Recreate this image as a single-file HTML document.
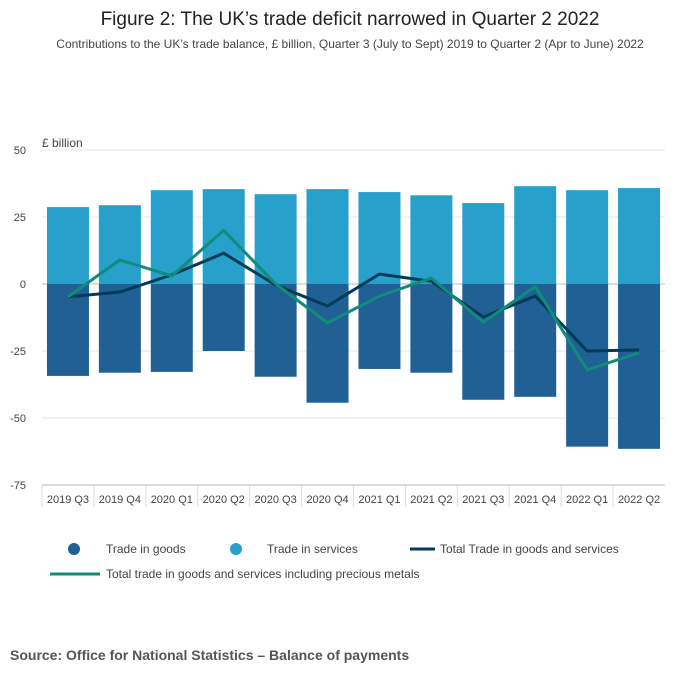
<!DOCTYPE html>
<html><head><meta charset="utf-8"><style>
body{margin:0;background:#fff;font-family:"Liberation Sans",sans-serif;}
svg text{font-family:"Liberation Sans",sans-serif;}
</style></head><body>
<svg width="700" height="682" id="c">
<text x="350" y="25" text-anchor="middle" font-size="19" fill="#222">Figure 2: The UK’s trade deficit narrowed in Quarter 2 2022</text>
<text x="350" y="48" text-anchor="middle" font-size="12" fill="#444">Contributions to the UK’s trade balance, £ billion, Quarter 3 (July to Sept) 2019 to Quarter 2 (Apr to June) 2022</text>
<text x="42" y="147" font-size="12" fill="#444">£ billion</text>
<g id="grid"></g><g id="bars"></g><g id="lines"></g><g id="axes"></g>
<g font-size="12" fill="#444">
<circle cx="74" cy="549" r="6" fill="#206095"/>
<text x="106" y="553">Trade in goods</text>
<circle cx="236" cy="549" r="6" fill="#27a0cc"/>
<text x="267" y="553">Trade in services</text>
<line x1="410" y1="549" x2="435" y2="549" stroke="#003c57" stroke-width="3"/>
<text x="440" y="553">Total Trade in goods and services</text>
<line x1="50" y1="574" x2="100" y2="574" stroke="#118c7b" stroke-width="3"/>
<text x="106" y="578">Total trade in goods and services including precious metals</text>
</g>
<text x="10" y="660" font-size="14" font-weight="bold" fill="#555">Source: Office for National Statistics – Balance of payments</text>
</svg>
<script>
const categories=["2019 Q3","2019 Q4","2020 Q1","2020 Q2","2020 Q3","2020 Q4","2021 Q1","2021 Q2","2021 Q3","2021 Q4","2022 Q1","2022 Q2"];
const services=[28.7,29.4,35,35.4,33.5,35.4,34.3,33.1,30.2,36.5,35,35.8];
const goods=[-34.3,-33.1,-32.8,-25,-34.6,-44.3,-31.7,-33.1,-43.2,-42.1,-60.7,-61.5];
const total=[-4.8,-3,3.4,11.5,-0.4,-8.2,3.7,1,-12.3,-4.5,-25,-24.6];
const precious=[-4.8,9,3,20,0,-14.5,-4.5,2.2,-14.2,-1,-32,-25.7];
const yTicks=[50,25,0,-25,-50,-75];
const NS="http://www.w3.org/2000/svg";
const x0=42,x1=665,band=(x1-x0)/categories.length;
const y=v=>284-v*(134/50);
const xc=i=>x0+band*(i+0.5);
function mk(t,a,p){const e=document.createElementNS(NS,t);for(const k in a)e.setAttribute(k,a[k]);p.appendChild(e);return e;}
const grid=document.getElementById('grid'),bars=document.getElementById('bars'),lines=document.getElementById('lines'),axes=document.getElementById('axes');
yTicks.forEach(v=>{
const l=mk('line',{x1:x0,x2:x1,y1:y(v),y2:y(v),stroke:v===0?'#bbb':'#e6e6e6'},grid);


const t=mk('text',{x:26,y:y(v)+4,'text-anchor':'end','font-size':11,fill:'#444'},axes);t.textContent=v;


});
const bw=42;
categories.forEach((c,i)=>{
const s=mk('rect',{x:xc(i)-bw/2,y:y(services[i]),width:bw,height:y(0)-y(services[i]),fill:'#27a0cc'},bars);


const g=mk('rect',{x:xc(i)-bw/2,y:y(0),width:bw,height:y(goods[i])-y(0),fill:'#206095'},bars);


const t=mk('text',{x:xc(i),y:y(-75)+18,'text-anchor':'middle','font-size':11,fill:'#444'},axes);t.textContent=c;


const tk=mk('line',{x1:x0+band*i,x2:x0+band*i,y1:y(-75),y2:y(-75)+22,stroke:'#ddd'},axes);


});
const ax=mk('line',{x1:x0,x2:x1,y1:y(-75),y2:y(-75),stroke:'#bbb'},axes);


const pl=(arr,col,n)=>{const p=mk('polyline',{points:arr.map((v,i)=>xc(i)+','+y(v)).join(' '),fill:'none',stroke:col,'stroke-width':3,'stroke-linejoin':'round'},lines);

};
pl(total,'#003c57','line-total');
pl(precious,'#118c7b','line-precious-metals');
</script>
</body></html>
